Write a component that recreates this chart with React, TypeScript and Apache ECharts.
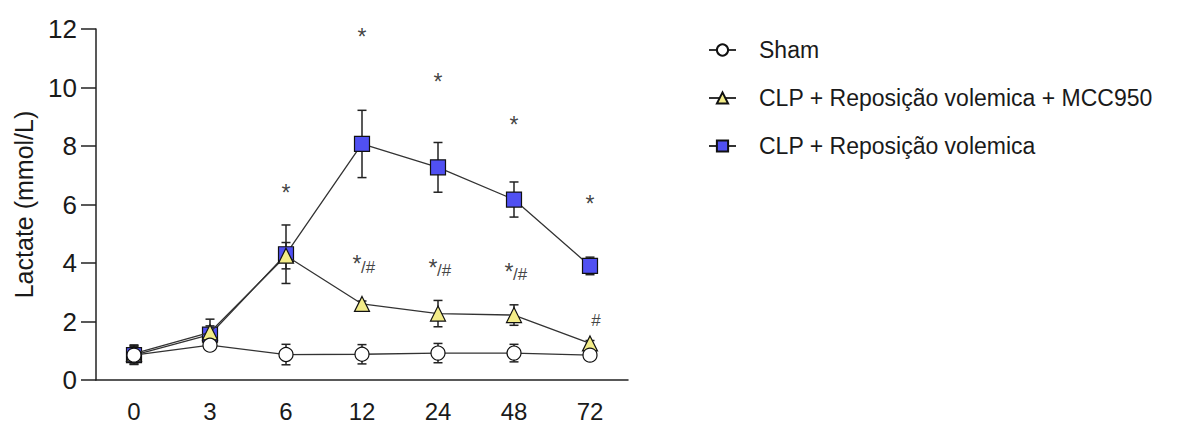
import React, { useEffect, useRef } from "react";
import * as echarts from "echarts";

// Time points (hours) and group means / SEM
const hours = ["0", "3", "6", "12", "24", "48", "72"];

const shamName = "Sham";
const mccName = "CLP + Reposição volemica + MCC950";
const clpName = "CLP + Reposição volemica";

const sham = [0.85, 1.19, 0.87, 0.88, 0.92, 0.92, 0.85];
const shamErr = [0.32, 0.1, 0.35, 0.33, 0.33, 0.3, 0.1];

const mcc = [0.9, 1.63, 4.25, 2.6, 2.27, 2.22, 1.25];
const mccErr = [0.3, 0.45, 0.45, 0.1, 0.45, 0.35, 0.1];

const clp = [0.85, 1.55, 4.3, 8.07, 7.27, 6.17, 3.9];
const clpErr = [0.3, 0.3, 1.0, 1.15, 0.85, 0.6, 0.3];

// Significance marks (y level in mmol/L where each mark sits)
const starHigh = [null, null, 6.55, 11.9, 10.35, 8.9, 6.2];
const starLow = [null, null, null, 4.15, 4.0, 3.85, null];
const hashLow = [null, null, null, 3.85, 3.75, 3.6, 2.05];
const hashText = ["", "", "", "/#", "/#", "/#", "#"];

const yTicks = { min: 0, max: 12, interval: 2 };

const FONT = "'Liberation Sans', Arial, Helvetica, sans-serif";
const INK = "#1a1a1a";

function errorSeries(name: string, vals: number[], errs: number[]) {
  return {
    type: "custom",
    name,
    z: 1,
    silent: true,
    data: vals.map((v, i) => [i, v, errs[i]]),
    renderItem: (params: any, api: any) => {
      const i = api.value(0);
      const v = api.value(1);
      const e = api.value(2);
      const top = api.coord([i, v + e]);
      const bot = api.coord([i, v - e]);
      const hw = 4.5;
      const style = { stroke: "#222", lineWidth: 1.5 };
      return {
        type: "group",
        children: [
          { type: "line", shape: { x1: top[0], y1: top[1], x2: bot[0], y2: bot[1] }, style },
          { type: "line", shape: { x1: top[0] - hw, y1: top[1], x2: top[0] + hw, y2: top[1] }, style },
          { type: "line", shape: { x1: bot[0] - hw, y1: bot[1], x2: bot[0] + hw, y2: bot[1] }, style },
        ],
      };
    },
  };
}

function markSeries(
  name: string,
  levels: (number | null)[],
  texts: string[],
  fontSize: number,
  offset: [number, number]
) {
  const data: any[] = [];
  levels.forEach((v, i) => {
    if (v !== null) data.push({ value: [i, v], label: { formatter: texts[i] } });
  });
  return {
    type: "scatter",
    name,
    symbolSize: 0,
    silent: true,
    z: 6,
    data,
    label: {
      show: true,
      position: "inside",
      offset,
      color: "#111",
      fontFamily: FONT,
      fontSize,
    },
  };
}

function lineSeries(name: string, vals: number[], symbol: string, size: number, fill: string, z: number) {
  return {
    type: "line",
    name,
    z,
    data: vals,
    symbol,
    symbolSize: size,
    showAllSymbol: true,
    lineStyle: { color: "#333", width: 1.3 },
    itemStyle: { color: fill, borderColor: "#111", borderWidth: 1.2 },
  };
}

export default function App() {
  const ref = useRef<HTMLDivElement>(null);

  useEffect(() => {
    if (!ref.current) return;
    const chart = echarts.init(ref.current, undefined, { renderer: "svg" });
    const star = hours.map(() => "*");
    chart.setOption({
      animation: false,
      backgroundColor: "#ffffff",
      grid: { left: 96, right: 569, top: 29, bottom: 40, containLabel: false },
      legend: {
        data: [shamName, mccName, clpName],
        orient: "vertical",
        left: 703,
        top: 33,
        itemWidth: 27,
        itemHeight: 14,
        itemGap: 24,
        selectedMode: false,
        textStyle: {
          color: INK,
          fontFamily: FONT,
          fontSize: 23,
          lineHeight: 24,
          padding: [0, 0, 0, 18],
        },
      },
      xAxis: {
        type: "category",
        data: hours,
        boundaryGap: true,
        axisLine: { lineStyle: { color: "#222", width: 1.5 } },
        axisTick: { alignWithLabel: true, length: 15, lineStyle: { color: "#222", width: 1.5 } },
        axisLabel: { color: INK, fontFamily: FONT, fontSize: 24, margin: 19 },
      },
      yAxis: {
        type: "value",
        min: yTicks.min,
        max: yTicks.max,
        interval: yTicks.interval,
        name: "Lactate (mmol/L)",
        nameLocation: "middle",
        nameGap: 60,
        nameTextStyle: { color: INK, fontFamily: FONT, fontSize: 25 },
        splitLine: { show: false },
        axisLine: { show: true, lineStyle: { color: "#222", width: 1.5 } },
        axisTick: { show: true, length: 15, lineStyle: { color: "#222", width: 1.5 } },
        axisLabel: { color: INK, fontFamily: FONT, fontSize: 26, margin: 19 },
      },
      series: [
        errorSeries("clp-sem", clp, clpErr),
        errorSeries("mcc-sem", mcc, mccErr),
        errorSeries("sham-sem", sham, shamErr),
        lineSeries(clpName, clp, "rect", 15, "#5050f2", 3),
        lineSeries(mccName, mcc, "triangle", 15, "#f3ec88", 4),
        lineSeries(shamName, sham, "circle", 14, "#ffffff", 5),
        markSeries("star-high", starHigh, star, 23, [0, 5]),
        markSeries("star-low", starLow, star, 23, [-5, 5]),
        markSeries("hash-low", hashLow, hashText, 17, [6, 0]),
      ],
    });
    return () => chart.dispose();
  }, []);

  return (
    <div
      ref={ref}
      style={{ position: "fixed", left: 0, top: 0, width: 1197, height: 423, background: "#fff" }}
    />
  );
}
